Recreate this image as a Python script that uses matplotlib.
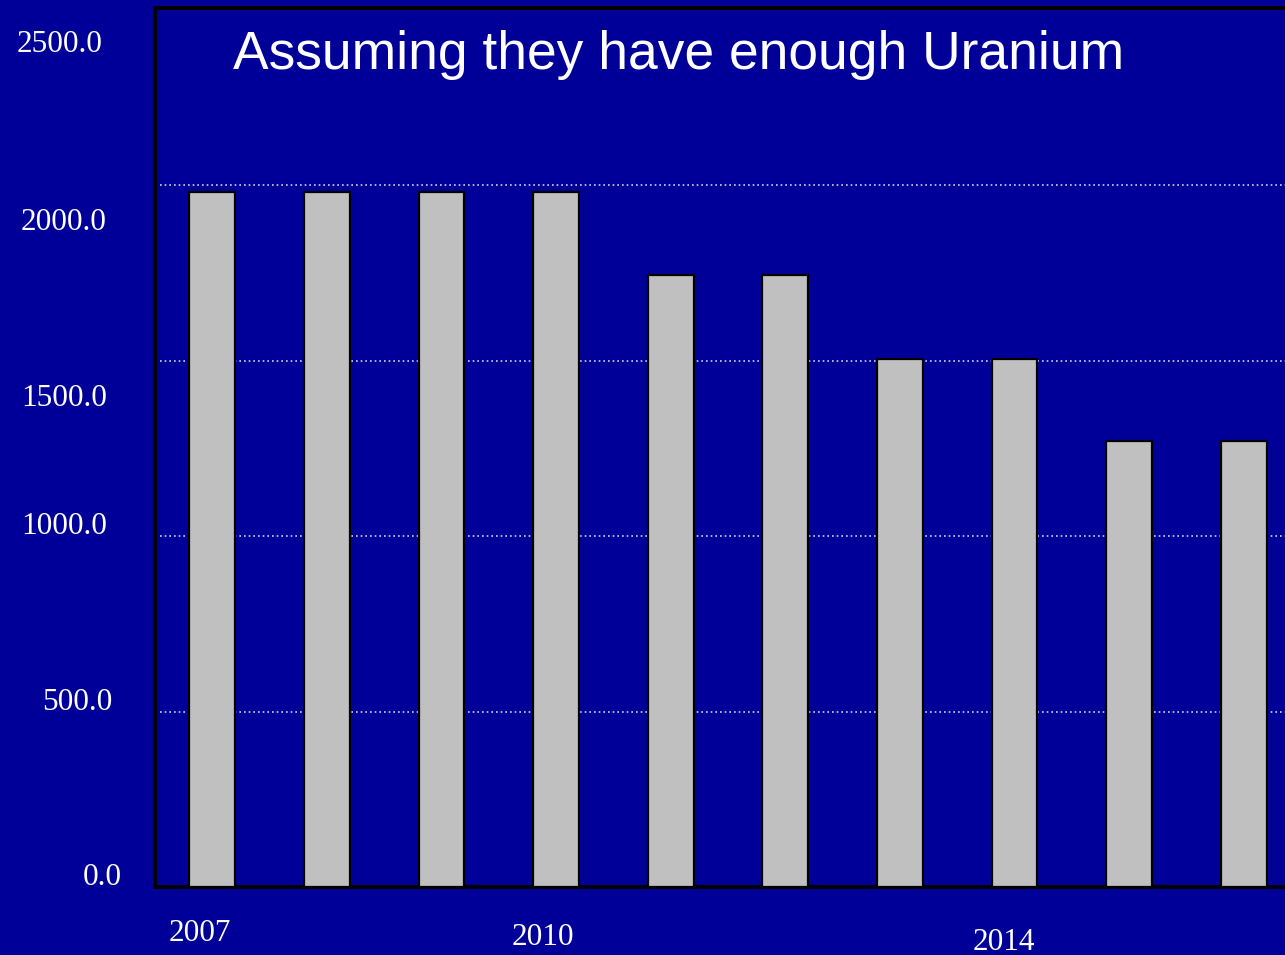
import matplotlib
matplotlib.use("Agg")
import matplotlib.pyplot as plt

# Data
years = ["2007", "2008", "2009", "2010", "2011", "2012", "2013", "2014", "2015", "2016"]
values = [1980, 1980, 1980, 1980, 1745, 1745, 1505, 1505, 1270, 1270]
ytick_values = [0, 500, 1000, 1500, 2000, 2500]
ytick_labels = ["0.0", "500.0", "1000.0", "1500.0", "2000.0", "2500.0"]
xlabel_years = ["2007", "2010", "2014"]
title = "Assuming they have enough Uranium"

W, H = 1285, 955
BG = "#000099"
fig = plt.figure(figsize=(W / 100, H / 100), dpi=100, facecolor=BG)

# axes placement (pixels)
left, right, top, bottom = 155, 1301, 8, 887
ax = fig.add_axes([left / W, 1 - bottom / H, (right - left) / W, (bottom - top) / H])
ax.set_facecolor(BG)

x = list(range(len(values)))
ax.bar(x, values, width=0.40, color="#c0c0c0", edgecolor="black", linewidth=1.6, zorder=3)

ax.set_xlim(-0.5, len(values) - 0.5)
ax.set_ylim(0, 2505)

# gridlines
for v in ytick_values[1:-1]:
    ax.plot([-0.455, len(values) - 0.5], [v, v], color="#d0d0e8", linewidth=1.2,
            linestyle=(0, (1, 1.8)), zorder=1, solid_capstyle="butt")

ax.set_xticks([])
ax.set_yticks([])
for s in ["left", "bottom", "top"]:
    ax.spines[s].set_color("black")
    ax.spines[s].set_linewidth(2.9)
ax.spines["right"].set_visible(False)

# y tick labels (as positioned in reference, pixel coords: right edge x, center y)
ylab_pos = {"2500.0": (102, 45), "2000.0": (107, 222), "1500.0": (107, 398),
            "1000.0": (107, 526), "500.0": (112, 702), "0.0": (122, 877)}
serif = ["Liberation Serif", "DejaVu Serif"]
for lab in ytick_labels:
    px, py = ylab_pos[lab]
    fig.text(px / W, 1 - py / H, lab, ha="right", va="center", color="white",
             fontsize=22.5, family=serif)

# x labels
xlab_pos = {"2007": (200, 933), "2010": (543, 937), "2014": (1004, 942)}
for lab in xlabel_years:
    px, py = xlab_pos[lab]
    fig.text(px / W, 1 - py / H, lab, ha="center", va="center", color="white",
             fontsize=22.5, family=serif)

# title
fig.text(233 / W, 1 - 69 / H, title, ha="left", va="baseline", color="white",
         fontsize=38.4, family=["Liberation Sans", "DejaVu Sans"])

fig.savefig("out.png", dpi=100, facecolor=BG)
